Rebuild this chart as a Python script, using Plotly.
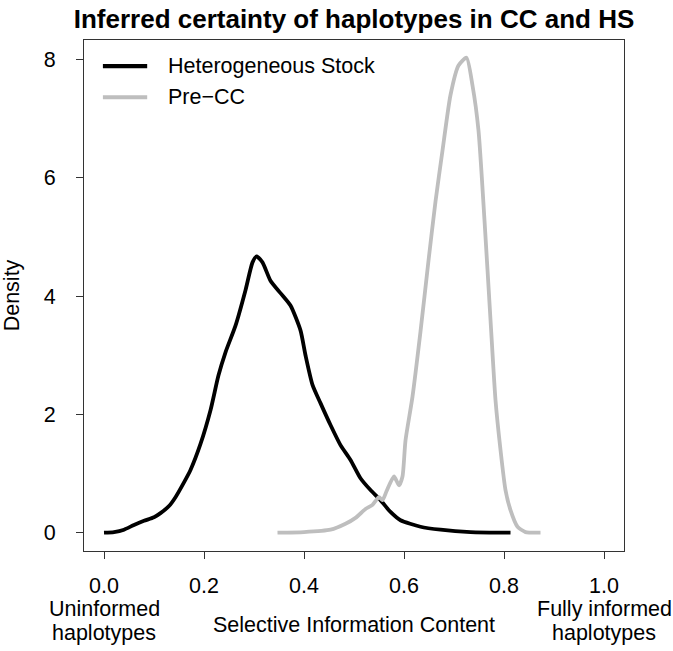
import plotly.graph_objects as go

# Heterogeneous Stock density curve
hs_x = [0.000, 0.020, 0.040, 0.060, 0.080, 0.100, 0.113, 0.130, 0.143, 0.160, 0.173,
        0.193, 0.213, 0.229, 0.243, 0.263, 0.283, 0.297, 0.305, 0.317, 0.333, 0.353,
        0.373, 0.393, 0.403, 0.417, 0.433, 0.453, 0.473, 0.493, 0.513, 0.533, 0.553,
        0.573, 0.593, 0.633, 0.673, 0.733, 0.813]
hs_y = [0.00, 0.01, 0.05, 0.13, 0.20, 0.26, 0.33, 0.45, 0.60, 0.85, 1.06,
        1.50, 2.07, 2.66, 3.05, 3.50, 4.10, 4.57, 4.67, 4.57, 4.26, 4.05,
        3.84, 3.42, 3.00, 2.50, 2.19, 1.82, 1.48, 1.23, 0.92, 0.72, 0.55,
        0.35, 0.21, 0.10, 0.05, 0.01, 0.00]

# Pre-CC density curve
cc_x = [0.347, 0.400, 0.453, 0.483, 0.503, 0.523, 0.537, 0.550, 0.557, 0.565, 0.580,
        0.590, 0.597, 0.603, 0.617, 0.633, 0.649, 0.663, 0.677, 0.693, 0.709, 0.725,
        0.737, 0.749, 0.761, 0.773, 0.783, 0.793, 0.803, 0.813, 0.827, 0.843, 0.873]
cc_y = [0.00, 0.01, 0.05, 0.15, 0.25, 0.40, 0.47, 0.60, 0.55, 0.70, 0.95,
        0.80, 0.95, 1.56, 2.30, 3.40, 4.60, 5.60, 6.46, 7.40, 7.90, 8.03,
        7.56, 6.80, 5.28, 3.60, 2.24, 1.40, 0.72, 0.38, 0.10, 0.01, 0.00]

x_ticks = [0.0, 0.2, 0.4, 0.6, 0.8, 1.0]
x_tick_labels = ["0.0", "0.2", "0.4", "0.6", "0.8", "1.0"]
y_ticks = [0, 2, 4, 6, 8]
y_tick_labels = ["0", "2", "4", "6", "8"]

series_names = ["Heterogeneous Stock", "Pre\u2212CC"]
series_colors = ["#000000", "#bebebe"]

FONT = "Liberation Sans, Arial, Helvetica, sans-serif"
FS = 21.5

fig = go.Figure()
fig.add_trace(go.Scatter(x=hs_x, y=hs_y, mode="lines", name=series_names[0],
                         line=dict(color=series_colors[0], width=3.8, shape="spline", smoothing=0.6)))
fig.add_trace(go.Scatter(x=cc_x, y=cc_y, mode="lines", name=series_names[1],
                         line=dict(color=series_colors[1], width=3.8, shape="spline", smoothing=0.6)))

axis_common = dict(showgrid=False, zeroline=False, showline=True, linecolor="#333333",
                   linewidth=1.2, mirror=True, ticks="outside", ticklen=7, tickwidth=1.2,
                   tickcolor="#333333", automargin=False,
                   tickfont=dict(family=FONT, size=FS, color="#000000"))

fig.update_xaxes(range=[-0.04, 1.04], tickvals=x_ticks, ticktext=x_tick_labels,
                 ticklabelstandoff=8, **axis_common)
fig.update_yaxes(range=[-0.31, 8.33], tickvals=y_ticks, ticktext=y_tick_labels,
                 ticklabelstandoff=16,
                 title=dict(text="Density", font=dict(family=FONT, size=FS, color="#000000"), standoff=25),
                 **axis_common)

shapes = []
annotations = []
# manual legend (R style, no box)
leg_y = [0.949, 0.888]
for i, (name, col) in enumerate(zip(series_names, series_colors)):
    shapes.append(dict(type="line", xref="paper", yref="paper", x0=0.035, x1=0.117,
                       y0=leg_y[i], y1=leg_y[i], line=dict(color=col, width=4.2)))
    annotations.append(dict(text=name, xref="paper", yref="paper", x=0.152, y=leg_y[i],
                            xanchor="left", yanchor="middle", showarrow=False,
                            font=dict(family=FONT, size=FS, color="#000000")))

def note(text, x, xref, y):
    return dict(text=text, xref=xref, yref="paper", x=x, y=y, xanchor="center",
                yanchor="middle", showarrow=False,
                font=dict(family=FONT, size=FS, color="#000000"))

annotations += [
    note("Uninformed", 0.0, "x", -0.1135),
    note("haplotypes", 0.0, "x", -0.1605),
    note("Fully informed", 1.0, "x", -0.1135),
    note("haplotypes", 1.0, "x", -0.1605),
    note("Selective Information Content", 0.5, "paper", -0.1448),
]

fig.update_layout(
    width=673, height=651,
    margin=dict(l=84, r=49, t=40, b=100),
    paper_bgcolor="white", plot_bgcolor="white",
    showlegend=False,
    title=dict(text="<b>Inferred certainty of haplotypes in CC and HS</b>",
               x=(84 + 270) / 673, xanchor="center",
               y=1 - 18.5 / 651, yanchor="middle", font=dict(family=FONT, size=26, color="#000000")),
    shapes=shapes, annotations=annotations,
)

# remove the default 8px page margin so the 673x651 figure fills the window exactly
fig.write_html("out.html", config={"displayModeBar": False},
               post_script="document.body.style.margin='0';")
